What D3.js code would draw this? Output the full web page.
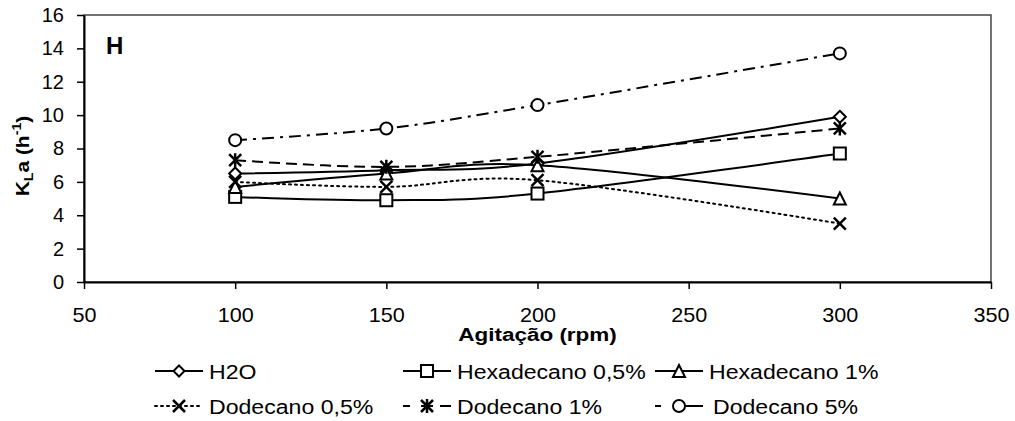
<!DOCTYPE html>
<html>
<head>
<meta charset="utf-8">
<script src="https://cdn.jsdelivr.net/npm/d3@7"></script>
<style>
  body { margin: 0; background: #fff; }
  svg text { font-family: "Liberation Sans", Arial, sans-serif; fill: #000; }
</style>
</head>
<body>
<div id="chart"></div>
<script>
// dados
var agitacao = [100, 150, 200, 300];
var h2o = [6.5, 6.7, 7.1, 9.9];
var hexa05 = [5.1, 4.9, 5.3, 7.7];
var hexa1 = [5.7, 6.5, 7.0, 5.0];
var dode05 = [6.0, 5.7, 6.1, 3.5];
var dode1 = [7.3, 6.9, 7.5, 9.2];
var dode5 = [8.5, 9.2, 10.6, 13.7];
var xTicks = [50, 100, 150, 200, 250, 300, 350];
var yTicks = [0, 2, 4, 6, 8, 10, 12, 14, 16];

var series = [
  { name: "H2O", values: h2o, marker: "diamond", dash: null },
  { name: "Hexadecano 0,5%", values: hexa05, marker: "square", dash: null },
  { name: "Hexadecano 1%", values: hexa1, marker: "triangle", dash: null },
  { name: "Dodecano 0,5%", values: dode05, marker: "cross", dash: "2,4" },
  { name: "Dodecano 1%", values: dode1, marker: "star", dash: "11,6" },
  { name: "Dodecano 5%", values: dode5, marker: "circle", dash: "12,6,3,6" }
];

var width = 1015, height = 421;
var margin = { top: 15, bottom: 139, left: 84, right: 24 };

var svg = d3.select("#chart").append("svg").attr("width", width).attr("height", height);

var xScale = d3.scaleLinear().domain([50, 350]).range([margin.left, width - margin.right]);
var yScale = d3.scaleLinear().domain([0, 16]).range([height - margin.bottom, margin.top]);

// moldura
svg.append("rect")
  .attr("x", xScale(50)).attr("y", yScale(16))
  .attr("width", xScale(350) - xScale(50)).attr("height", yScale(0) - yScale(16))
  .attr("fill", "none").attr("stroke", "#444").attr("stroke-width", 1.5);

// eixos
var axisx = d3.axisBottom(xScale).tickValues(xTicks).tickSize(7).tickSizeOuter(0);
var gx = svg.append("g")
  .attr("transform", "translate(0," + yScale(0) + ")")
  .call(axisx);
gx.select(".domain").attr("stroke", "#000").attr("stroke-width", 2);
gx.selectAll(".tick line").attr("stroke", "#000").attr("stroke-width", 1.5);
gx.selectAll(".tick text").attr("y", 40).attr("dy", null).attr("font-size", "20px")
  .attr("transform", "scale(1.08,1)");

var axisy = d3.axisLeft(yScale).tickValues(yTicks).tickSize(7).tickSizeOuter(0).tickPadding(13);
var gy = svg.append("g")
  .attr("transform", "translate(" + xScale(50) + ",0)")
  .call(axisy);
gy.select(".domain").attr("stroke", "#000").attr("stroke-width", 2);
gy.selectAll(".tick line").attr("stroke", "#000").attr("stroke-width", 1.5);
gy.selectAll(".tick text").attr("font-size", "20px");

svg.append("text")
  .attr("transform", "translate(" + (xScale(50) + xScale(350)) / 2 + ",341) scale(1.25,1)")
  .attr("text-anchor", "middle")
  .attr("font-size", "18px")
  .attr("font-weight", "bold")
  .text("Agitação (rpm)");

var yl = svg.append("text")
  .attr("transform", "translate(29,156) rotate(-90) scale(1.1,1)")
  .attr("text-anchor", "middle")
  .attr("font-size", "19px")
  .attr("font-weight", "bold");
yl.append("tspan").text("K");
yl.append("tspan").attr("font-size", "13px").attr("dy", 4).text("L");
yl.append("tspan").attr("dy", -4).text("a (h");
yl.append("tspan").attr("font-size", "13px").attr("dy", -8).text("-1");
yl.append("tspan").attr("dy", 8).text(")");

svg.append("text")
  .attr("x", 106).attr("y", 54)
  .attr("font-size", "24px").attr("font-weight", "bold")
  .text("H");

// marcadores
function drawMarker(g, type, x, y, s) {
  var h = s / 2;
  var st = { fill: "#fff", stroke: "#000", "stroke-width": 2 };
  var el;
  if (type === "diamond") {
    el = g.append("path").attr("d", "M" + x + "," + (y - h) + "L" + (x + h) + "," + y + "L" + x + "," + (y + h) + "L" + (x - h) + "," + y + "Z");
  } else if (type === "square") {
    el = g.append("rect").attr("x", x - h).attr("y", y - h).attr("width", s).attr("height", s);
  } else if (type === "triangle") {
    el = g.append("path").attr("d", "M" + x + "," + (y - h) + "L" + (x + h) + "," + (y + h) + "L" + (x - h) + "," + (y + h) + "Z");
  } else if (type === "circle") {
    el = g.append("circle").attr("cx", x).attr("cy", y).attr("r", h);
  } else if (type === "cross") {
    el = g.append("path").attr("d", "M" + (x - h) + "," + (y - h) + "L" + (x + h) + "," + (y + h) + "M" + (x + h) + "," + (y - h) + "L" + (x - h) + "," + (y + h));
    st["stroke-width"] = 2.5;
  } else if (type === "star") {
    el = g.append("path").attr("d", "M" + (x - h) + "," + (y - h) + "L" + (x + h) + "," + (y + h) + "M" + (x + h) + "," + (y - h) + "L" + (x - h) + "," + (y + h) + "M" + x + "," + (y - h - 1) + "L" + x + "," + (y + h + 1));
    st["stroke-width"] = 2.5;
  }
  Object.keys(st).forEach(function(k) { el.attr(k, st[k]); });
}

var line = d3.line()
  .x(function(d) { return xScale(d[0]); })
  .y(function(d) { return yScale(d[1]); })
  .curve(d3.curveCardinal.tension(0));

var plot = svg.append("g");
series.forEach(function(s) {
  var pts = agitacao.map(function(a, i) { return [a, s.values[i]]; });
  plot.append("path")
    .attr("d", line(pts))
    .attr("fill", "none")
    .attr("stroke", "#000")
    .attr("stroke-width", 2)
    .attr("stroke-linecap", s.dash === "2,4" ? "round" : "butt")
    .attr("stroke-dasharray", s.dash);
});
series.forEach(function(s) {
  agitacao.forEach(function(a, i) {
    drawMarker(plot, s.marker, xScale(a), yScale(s.values[i]), 12);
  });
});

// legenda
var legX = [155, 403, 655];
var legY = [371, 406];
series.forEach(function(s, i) {
  var col = i % 3, row = Math.floor(i / 3);
  var x0 = legX[col], y0 = legY[row];
  var g = svg.append("g");
  g.append("line")
    .attr("x1", x0).attr("x2", x0 + 48)
    .attr("y1", y0).attr("y2", y0)
    .attr("stroke", "#000").attr("stroke-width", 2)
    .attr("stroke-linecap", s.dash === "2,4" ? "round" : "butt")
    .attr("stroke-dasharray", s.dash === "12,6,3,6" ? "6,13,30" : (s.dash === "11,6" ? "7,11,12" : s.dash));
  drawMarker(g, s.marker, x0 + 24, y0, s.marker === "diamond" ? 11 : 12);
  var tx = x0 + (col === 2 && row === 1 ? 58 : 54);
  g.append("text")
    .attr("transform", "translate(" + tx + "," + (y0 + 8) + ") scale(1.1,1)")
    .attr("font-size", "21px")
    .text(s.name);
});
</script>
</body>
</html>
